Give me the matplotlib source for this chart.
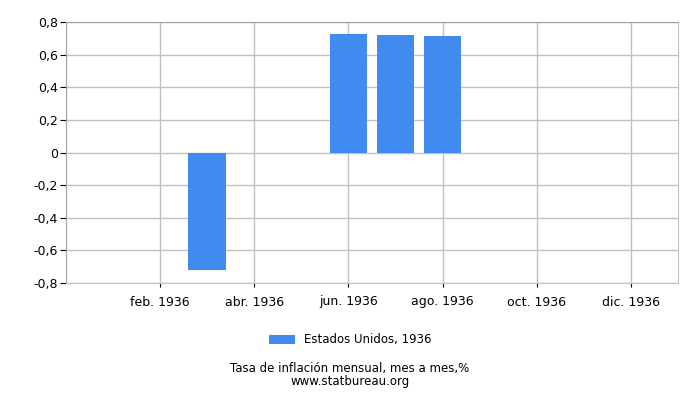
import matplotlib
matplotlib.use('Agg')
import matplotlib.pyplot as plt
from matplotlib.ticker import FuncFormatter

# datos (indice de mes: 0 = ene. 1936)
meses = [2, 5, 6, 7]
valores = [-0.72, 0.727, 0.72, 0.714]
etiquetas_x = ['feb. 1936', 'abr. 1936', 'jun. 1936', 'ago. 1936', 'oct. 1936', 'dic. 1936']
posiciones_x = [1, 3, 5, 7, 9, 11]
serie = 'Estados Unidos, 1936'
titulo = 'Tasa de inflación mensual, mes a mes,%'
fuente = 'www.statbureau.org'

fig = plt.figure(figsize=(7, 4), dpi=100)
ax = fig.add_axes([66/700, 117/400, 612/700, 261/400])

ax.bar(meses, valores, width=0.8, color='#418af0', label=serie, zorder=3)

ax.set_xlim(-1, 12)
ax.set_ylim(-0.8, 0.8)
ax.set_xticks(posiciones_x)
ax.set_xticklabels(etiquetas_x)
ax.set_yticks([-0.8, -0.6, -0.4, -0.2, 0, 0.2, 0.4, 0.6, 0.8])
ax.yaxis.set_major_formatter(FuncFormatter(lambda v, p: '0' if abs(v) < 1e-9 else ('%.1f' % v).replace('.', ',')))

ax.grid(True, color='#c0c0c0', linewidth=1, zorder=0)
for s in ['top', 'right', 'bottom']:
    ax.spines[s].set_color('#c0c0c0')
ax.spines['top'].set_color('#a0a0a0')
ax.spines['left'].set_color('#a0a0a0')
ax.tick_params(axis='both', labelsize=9, length=4, color='black', pad=2)
ax.tick_params(axis='x', length=3, pad=6)

fig.legend(loc='center', bbox_to_anchor=(0.5, 0.15), frameon=False, fontsize=8.5,
           handlelength=2.2, handleheight=0.9)
fig.text(0.5, 0.078, titulo, ha='center', va='center', fontsize=8.5)
fig.text(0.5, 0.045, fuente, ha='center', va='center', fontsize=8.5)

fig.savefig('out.png', dpi=100)
